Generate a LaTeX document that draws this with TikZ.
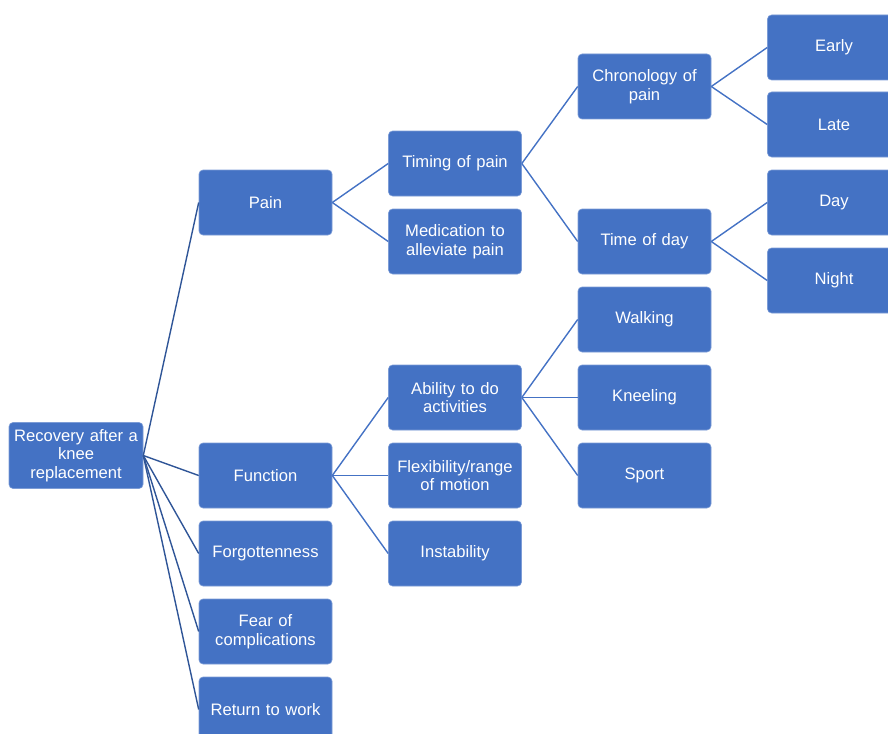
\documentclass[tikz,border=0pt]{standalone}
\usepackage{fontspec}
\setmainfont{Liberation Sans}
\definecolor{boxblue}{HTML}{4472C4}
\definecolor{rootline}{HTML}{2F5597}
\begin{document}
\begin{tikzpicture}[x=1pt,y=-1pt,
  box/.style={fill=boxblue, draw=boxblue!70!white, line width=0.6pt, rounded corners=4pt,
    minimum width=133pt, minimum height=65pt, text=white, align=center,
    text width=131pt, inner sep=0pt, font=\fontsize{16.6}{18.5}\selectfont},
  conn/.style={draw=boxblue, line width=1.4pt},
  rconn/.style={draw=rootline, line width=1.4pt}]
\useasboundingbox (0,0) rectangle (888,733);
% root
\node[box, minimum width=134pt, minimum height=66pt] (root) at (76,455.5) {Recovery after a\\knee\\replacement};
% level 1
\node[box] (pain) at (265.5,202.5) {Pain};
\node[box] (func) at (265.5,475.5) {Function};
\node[box] (forg) at (265.5,553.5) {Forgottenness};
\node[box] (fear) at (265.5,631.5) {Fear of\\complications};
\node[box] (work) at (265.5,709.5) {Return to work};
% level 2
\node[box] (timing) at (455,163.5) {Timing of pain};
\node[box] (medic) at (455,241.5) {Medication to\\alleviate pain};
\node[box] (abil) at (455,397.5) {Ability to do\\activities};
\node[box] (flex) at (455,475.5) {Flexibility/range\\of motion};
\node[box] (inst) at (455,553.5) {Instability};
% level 3
\node[box] (chron) at (644.5,86.5) {Chronology of\\pain};
\node[box] (tod) at (644.5,241.5) {Time of day};
\node[box] (walk) at (644.5,319.5) {Walking};
\node[box] (kneel) at (644.5,397.5) {Kneeling};
\node[box] (sport) at (644.5,475.5) {Sport};
% level 4
\node[box] (early) at (834,47.5) {Early};
\node[box] (late) at (834,124.5) {Late};
\node[box] (day) at (834,202.5) {Day};
\node[box] (night) at (834,280.5) {Night};
% connectors
\foreach \c in {pain,func,forg,fear,work}
  \draw[rconn] (root.east) -- (\c.west);
\foreach \c in {timing,medic} \draw[conn] (pain.east) -- (\c.west);
\foreach \c in {abil,flex,inst} \draw[conn] (func.east) -- (\c.west);
\foreach \c in {chron,tod} \draw[conn] (timing.east) -- (\c.west);
\foreach \c in {walk,kneel,sport} \draw[conn] (abil.east) -- (\c.west);
\foreach \c in {early,late} \draw[conn] (chron.east) -- (\c.west);
\foreach \c in {day,night} \draw[conn] (tod.east) -- (\c.west);
\end{tikzpicture}
\end{document}
